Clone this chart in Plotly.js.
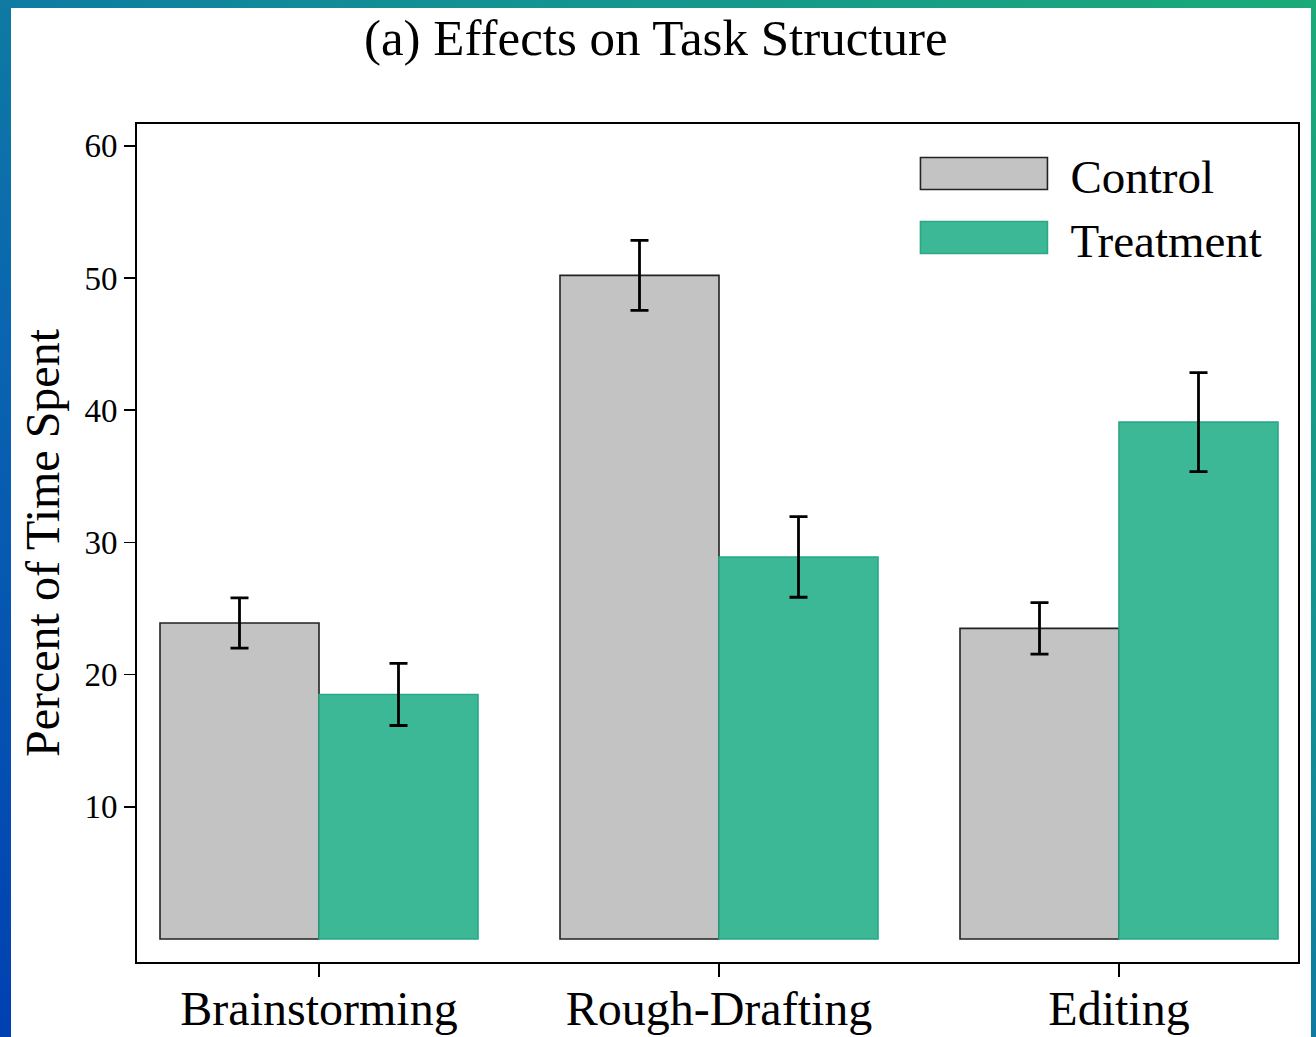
<!DOCTYPE html>
<html>
<head>
<meta charset="utf-8">
<script src="https://cdn.plot.ly/plotly-3.0.1.min.js"></script>
<style>
  html, body { margin: 0; padding: 0; width: 1316px; height: 1037px; overflow: hidden; }
  body { background: linear-gradient(to top right, #0040b2 0%, #0a66b0 35%, #128f96 65%, #1aab78 100%); position: relative; }
  #chart { position: absolute; left: 11px; top: 8px; width: 1300px; height: 1029px; background: #ffffff; }
</style>
</head>
<body>
<div id="chart"></div>
<script>
// ---- data ----
var categories = ['Brainstorming', 'Rough-Drafting', 'Editing'];
var seriesNames = ['Control', 'Treatment'];
var controlValues = [23.9, 50.2, 23.5];
var controlErrors = [1.9, 2.65, 1.95];
var treatmentValues = [18.5, 28.9, 39.1];
var treatmentErrors = [2.35, 3.05, 3.75];
var yTickValues = [10, 20, 30, 40, 50, 60];
var yTickLabels = ['10', '20', '30', '40', '50', '60'];

var FONT = '"Liberation Serif", "Times New Roman", serif';

var errStyle = { type: 'data', visible: true, color: '#000000', thickness: 2.8, width: 9 };

var traces = [
  {
    type: 'bar', name: seriesNames[0], x: categories, y: controlValues,
    marker: { color: '#c3c3c3', line: { color: '#222222', width: 1.6 } },
    error_y: Object.assign({ array: controlErrors }, errStyle),
    hoverinfo: 'x+y'
  },
  {
    type: 'bar', name: seriesNames[1], x: categories, y: treatmentValues,
    marker: { color: '#3db897', line: { color: '#2aa886', width: 1.6 } },
    error_y: Object.assign({ array: treatmentErrors }, errStyle),
    hoverinfo: 'x+y'
  }
];

var layout = {
  width: 1300, height: 1029,
  paper_bgcolor: '#ffffff', plot_bgcolor: '#ffffff',
  margin: { l: 126, r: 13, t: 116, b: 75, pad: 0 },
  font: { family: FONT, color: '#000000' },
  title: {
    text: '(a) Effects on Task Structure',
    font: { family: FONT, size: 51, color: '#000000' },
    xref: 'container', x: 0.496, xanchor: 'center',
    yref: 'container', y: 0.972, yanchor: 'middle'
  },
  barmode: 'group', bargap: 0.205, bargroupgap: 0,
  xaxis: {
    type: 'category', range: [-0.455, 2.4475],
    showline: true, linecolor: '#000000', linewidth: 2, mirror: true,
    ticks: 'outside', ticklen: 13, tickwidth: 1.5, tickcolor: '#000000',
    ticklabelstandoff: -10,
    tickfont: { family: FONT, size: 48, color: '#000000' },
    showgrid: false, zeroline: false, fixedrange: true
  },
  yaxis: {
    range: [-1.74, 61.65],
    tickvals: yTickValues, ticktext: yTickLabels,
    showline: true, linecolor: '#000000', linewidth: 2, mirror: true,
    ticks: 'outside', ticklen: 11, tickwidth: 1.5, tickcolor: '#000000',
    tickfont: { family: FONT, size: 33, color: '#000000' },
    title: { text: 'Percent of Time Spent', font: { family: FONT, size: 48, color: '#000000' }, standoff: 10 },
    showgrid: false, zeroline: false, fixedrange: true
  },
  showlegend: true,
  legend: {
    x: 0.655, y: 0.984, xanchor: 'left', yanchor: 'top',
    bgcolor: 'rgba(0,0,0,0)', borderwidth: 0,
    font: { family: FONT, size: 47, color: '#000000' },
    itemwidth: 163, tracegroupgap: 0, traceorder: 'normal'
  }
};

var gd = document.getElementById('chart');
function widenSwatches() {
  var paths = gd.querySelectorAll('.legend .legendpoints path');
  paths.forEach(function (p) { p.setAttribute('d', 'M63.5,15H-63.5V-17H63.5Z'); });
}
Plotly.newPlot(gd, traces, layout, { staticPlot: true, displayModeBar: false }).then(function () {
  widenSwatches();
  gd.on && gd.on('plotly_afterplot', widenSwatches);
});
</script>
</body>
</html>
